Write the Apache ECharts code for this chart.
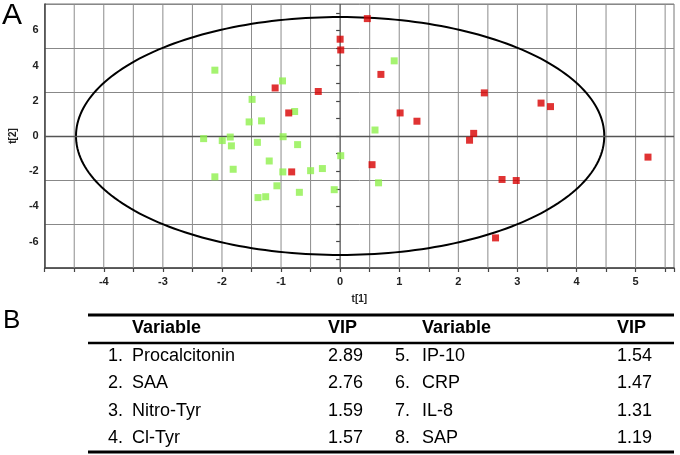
<!DOCTYPE html>
<html>
<head>
<meta charset="utf-8">
<script src="https://cdn.jsdelivr.net/npm/echarts@6/dist/echarts.min.js"></script>
<style>
  html, body { margin: 0; padding: 0; background: #fff; }
  #chart { width: 680px; height: 455px; }
</style>
</head>
<body>
<div id="chart"></div>
<script>
// score plot t[1] / t[2], two groups
const greenPoints = [
  [-2.12, 3.74], [-0.975, 3.13], [-1.49, 2.08], [-1.54, 0.80], [-1.33, 0.86],
  [-0.77, 1.39], [-2.31, -0.15], [-1.995, -0.26], [-1.86, -0.06], [-1.84, -0.56],
  [-1.40, -0.36], [-0.965, -0.04], [-0.72, -0.49], [0.915, 4.27], [0.59, 0.34],
  [0.01, -1.12], [-1.20, -1.42], [-1.81, -1.89], [-2.12, -2.32], [-0.97, -2.04],
  [-0.50, -1.97], [-0.30, -1.85], [-1.07, -2.83], [-0.69, -3.20], [-0.10, -3.05],
  [-1.39, -3.50], [-1.26, -3.45], [0.65, -2.66]
]
const redPoints = [
  [-1.10, 2.73], [-0.87, 1.31], [-0.37, 2.53], [0.0, 5.5], [0.01, 4.89],
  [0.46, 6.67], [0.69, 3.50], [2.44, 2.45], [3.40, 1.87], [3.56, 1.67],
  [1.015, 1.31], [1.30, 0.84], [2.26, 0.15], [2.19, -0.24], [-0.82, -2.04],
  [0.54, -1.63], [2.74, -2.47], [2.98, -2.53], [2.63, -5.79], [5.21, -1.20]
]
const xLabelValues = [-4, -3, -2, -1, 0, 1, 2, 3, 4, 5]
const xGridValues = [-4.5, -4, -3.5, -3, -2.5, -2, -1.5, -1, -0.5, 0, 0.5, 1, 1.5, 2, 2.5, 3, 3.5, 4, 4.5, 5, 5.5]
const yRange = [-7.5, 7.5]
const yLabelValues = [-6, -4, -2, 0, 2, 4, 6]
const yTickValues = [-7, -6, -5, -4, -3, -2, -1, 0, 1, 2, 3, 4, 5, 6, 7]
// Hotelling ellipse semi-axes (t[1], t[2])
const ellipseRadii = [4.47, 6.76]

// VIP table
const tableNums = ['1.', '2.', '3.', '4.', '5.', '6.', '7.', '8.']
const tableNames = ['Procalcitonin', 'SAA', 'Nitro-Tyr', 'Cl-Tyr', 'IP-10', 'CRP', 'IL-8', 'SAP']
const tableVip = [2.89, 2.76, 1.59, 1.57, 1.54, 1.47, 1.31, 1.19]

const font = '"Liberation Sans", Arial, sans-serif'
const green = '#8ef04c'
const red = '#d80000'

const chart = echarts.init(document.getElementById('chart'))

// table built as graphic text
const graphic = [
  { type: 'text', x: 2, y: 16, style: { text: 'A', font: '30px ' + font, fill: '#000', textVerticalAlign: 'middle' } },
  { type: 'text', x: 3, y: 321, style: { text: 'B', font: '26px ' + font, fill: '#000', textVerticalAlign: 'middle' } },
  { type: 'line', shape: { x1: 88, y1: 315, x2: 674, y2: 315 }, style: { stroke: '#000', lineWidth: 3 } },
  { type: 'line', shape: { x1: 88, y1: 343, x2: 674, y2: 343 }, style: { stroke: '#000', lineWidth: 2.5 } },
  { type: 'line', shape: { x1: 88, y1: 452, x2: 674, y2: 452 }, style: { stroke: '#000', lineWidth: 3 } }
]
const colX = [{ num: 108, name: 132, vip: 328 }, { num: 395, name: 422, vip: 617 }]
const rowY = [356, 383, 411, 438]
colX.forEach(c => {
  graphic.push({ type: 'text', x: c.name, y: 328, style: { text: 'Variable', font: 'bold 18px ' + font, fill: '#000', textVerticalAlign: 'middle' } })
  graphic.push({ type: 'text', x: c.vip, y: 328, style: { text: 'VIP', font: 'bold 18px ' + font, fill: '#000', textVerticalAlign: 'middle' } })
})
tableNames.forEach((name, i) => {
  const c = colX[Math.floor(i / 4)]
  const y = rowY[i % 4]
  graphic.push({ type: 'text', x: c.num, y, style: { text: tableNums[i], font: '18px ' + font, fill: '#000', textVerticalAlign: 'middle' } })
  graphic.push({ type: 'text', x: c.name, y, style: { text: name, font: '18px ' + font, fill: '#000', textVerticalAlign: 'middle' } })
  graphic.push({ type: 'text', x: c.vip, y, style: { text: tableVip[i].toFixed(2), font: '18px ' + font, fill: '#000', textVerticalAlign: 'middle' } })
})

const labelStyle = { fontFamily: font, fontWeight: 'bold', fontSize: 11, color: '#222' }

// vertical grid lines, one tiny line series each
const gridSeries = xGridValues.map(v => ({
  type: 'line',
  data: [[v, yRange[0]], [v, yRange[1]]],
  symbol: 'none',
  silent: true,
  z: 1,
  lineStyle: { color: v === 0 ? '#555' : '#8c8c8c', width: v === 0 ? 1.3 : 1 }
}))

const option = {
  animation: false,
  backgroundColor: '#fff',
  grid: { left: 39, right: 6, top: 4, bottom: 187, show: true, borderColor: '#777', borderWidth: 1 },
  xAxis: {
    type: 'value', min: -5, max: 5.65, interval: 0.5,
    name: 't[1]', nameLocation: 'middle', nameGap: 26,
    nameTextStyle: { fontFamily: font, fontWeight: 'bold', fontSize: 10, color: '#222' },
    axisLine: { show: true, onZero: false, lineStyle: { color: '#444', width: 1.5 } },
    axisTick: { show: true, length: 4, lineStyle: { color: '#444', width: 1.2 } },
    axisLabel: Object.assign({ customValues: xLabelValues, margin: 8 }, labelStyle),
    splitLine: { show: false }
  },
  yAxis: [
    {
      type: 'value', min: yRange[0], max: yRange[1], interval: 2.5,
      axisLine: { show: true, onZero: false, lineStyle: { color: '#444', width: 1.5 } },
      axisTick: { show: false },
      axisLabel: { show: false },
      splitLine: { show: true, lineStyle: { color: '#888', width: 1 } }
    },
    {
      type: 'value', min: yRange[0], max: yRange[1], position: 'left',
      name: 't[2]', nameLocation: 'middle', nameGap: 23,
      nameTextStyle: { fontFamily: font, fontWeight: 'bold', fontSize: 10, color: '#222' },
      axisLine: { show: false },
      axisTick: { show: true, customValues: yTickValues, length: 4, lineStyle: { color: '#444', width: 1.2 } },
      axisLabel: Object.assign({ customValues: yLabelValues, margin: 6 }, labelStyle),
      splitLine: { show: false }
    }
  ],
  graphic: graphic,
  series: gridSeries.concat([
    {
      type: 'custom',
      data: [[0, 0]],
      silent: true,
      z: 3,
      renderItem: (params, api) => {
        const pts = []
        for (let i = 0; i <= 240; i++) {
          const t = i / 240 * Math.PI * 2
          pts.push(api.coord([ellipseRadii[0] * Math.cos(t), ellipseRadii[1] * Math.sin(t)]))
        }
        return { type: 'polyline', shape: { points: pts }, style: { stroke: '#000', lineWidth: 2, fill: null } }
      },
      markLine: {
        silent: true, symbol: ['none', 'none'], label: { show: false },
        lineStyle: { color: '#555', type: 'solid', width: 1.3 },
        data: [{ yAxis: 0 }]
      }
    },
    { type: 'scatter', data: greenPoints, symbol: 'rect', symbolSize: 7, itemStyle: { color: green }, z: 5 },
    { type: 'scatter', data: redPoints, symbol: 'rect', symbolSize: 7, itemStyle: { color: red }, z: 5 }
  ])
}
chart.setOption(option)
</script>
</body>
</html>
